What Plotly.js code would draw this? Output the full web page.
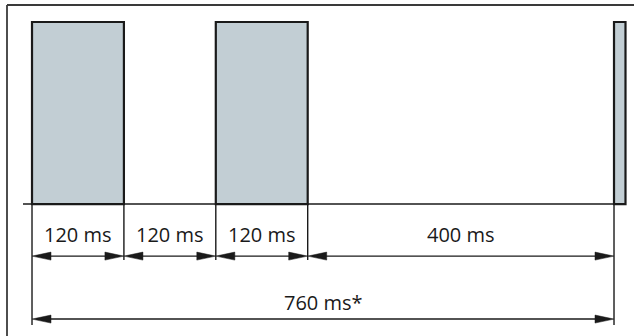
<!DOCTYPE html>
<html>
<head>
<meta charset="utf-8">
<script src="https://cdn.plot.ly/plotly-3.0.1.min.js"></script>
<style>html,body{margin:0;padding:0;background:#fff;}#chart{width:634px;height:336px;}</style>
</head>
<body>
<div id="chart"></div>
<script>
// ---- data (ms) ----
const pulseStarts = [0, 240, 760];
const pulseWidths = [120, 120, 15];
const segmentEdges = [0, 120, 240, 360, 760];
const segmentLabels = ['120 ms', '120 ms', '120 ms', '400 ms'];
const totalStart = 0;
const totalEnd = 760;
const totalLabel = '760 ms*';

// ---- layout constants ----
const W = 634, H = 336;
const xRange = [-41.8, 786.1];
const yRange = [-0.725, 1.121];
const pxPerMs = W / (xRange[1] - xRange[0]);
const pxPerY = H / (yRange[1] - yRange[0]);
const ink = '#1a1a1a';
const lineW = 1.4;
const fontSpec = {family:'Open Sans, sans-serif', size:20, color:ink};

const yLabel1 = -0.17, yArrow1 = -0.286, yTick1 = -0.308;
const yLabel2 = -0.542, yArrow2 = -0.632, yTick2 = -0.665;
const headLen = 19 / pxPerMs;      // arrowhead length in ms
const headHalf = 4 / pxPerY;       // arrowhead half height in y units

const shapes = [];
const annotations = [];

// frame
shapes.push({type:'line', xref:'paper', yref:'paper', x0:7/W, x1:1.01, y0:1-5/H, y1:1-5/H, line:{color:'#3a3a3a', width:1.8}});
shapes.push({type:'line', xref:'paper', yref:'paper', x0:7/W, x1:7/W, y0:-0.01, y1:1-5/H, line:{color:'#3a3a3a', width:1.8}});

// baseline
shapes.push({type:'line', xref:'x', yref:'y', layer:'below', x0:-11.8, x1:totalEnd + 8, y0:0, y1:0, line:{color:ink, width:lineW}});

// vertical tick lines
segmentEdges.forEach(function (e) {
  const outer = (e === totalStart || e === totalEnd);
  shapes.push({type:'line', xref:'x', yref:'y', x0:e, x1:e, y0:0, y1: outer ? yTick2 : yTick1, line:{color:ink, width:lineW}});
});

function arrow(a, b, y) {
  shapes.push({type:'line', xref:'x', yref:'y', x0:a + headLen * 0.8, x1:b - headLen * 0.8, y0:y, y1:y, line:{color:ink, width:lineW}});
  shapes.push({type:'path', xref:'x', yref:'y', fillcolor:ink, line:{color:ink, width:0.5},
    path:'M' + a + ',' + y + ' L' + (a + headLen) + ',' + (y + headHalf) + ' L' + (a + headLen) + ',' + (y - headHalf) + ' Z'});
  shapes.push({type:'path', xref:'x', yref:'y', fillcolor:ink, line:{color:ink, width:0.5},
    path:'M' + b + ',' + y + ' L' + (b - headLen) + ',' + (y + headHalf) + ' L' + (b - headLen) + ',' + (y - headHalf) + ' Z'});
}

for (let i = 0; i < segmentLabels.length; i++) {
  const a = segmentEdges[i], b = segmentEdges[i + 1];
  arrow(a, b, yArrow1);
  annotations.push({x:(a + b) / 2, y:yLabel1, xref:'x', yref:'y', text:segmentLabels[i], showarrow:false,
    font:fontSpec, xanchor:'center', yanchor:'middle'});
}
arrow(totalStart, totalEnd, yArrow2);
annotations.push({x:(totalStart + totalEnd) / 2, y:yLabel2, xref:'x', yref:'y', text:totalLabel, showarrow:false,
  font:fontSpec, xanchor:'center', yanchor:'middle'});

const bars = {
  type:'bar',
  x: pulseStarts.map(function (s, i) { return s + pulseWidths[i] / 2; }),
  width: pulseWidths,
  y: pulseStarts.map(function () { return 1; }),
  base: 0,
  marker:{color:'#c2ced4', line:{color:ink, width:2.2}},
  hoverinfo:'skip'
};

Plotly.newPlot('chart', [bars], {
  width:W, height:H,
  margin:{l:0, r:0, t:0, b:0},
  paper_bgcolor:'#ffffff', plot_bgcolor:'#ffffff',
  showlegend:false,
  xaxis:{range:xRange, visible:false, fixedrange:true},
  yaxis:{range:yRange, visible:false, fixedrange:true},
  shapes:shapes,
  annotations:annotations
}, {staticPlot:true, displayModeBar:false});
</script>
</body>
</html>
